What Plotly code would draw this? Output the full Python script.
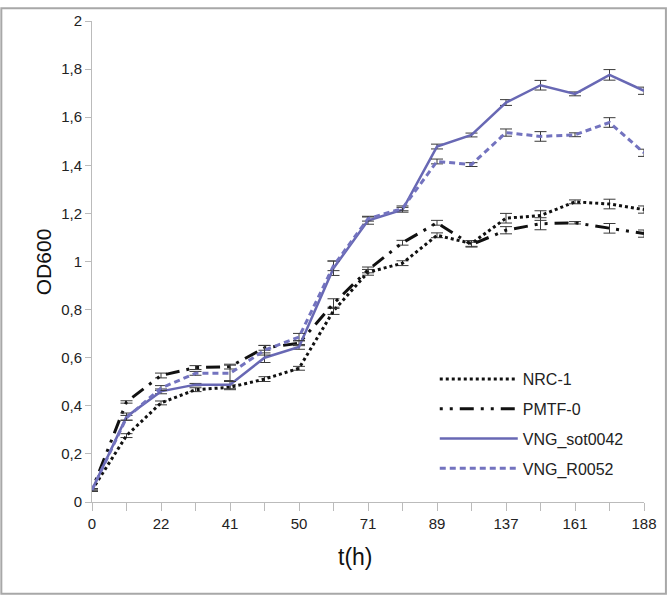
import plotly.graph_objects as go

# ---- data ----
time_labels = ["0", "", "22", "", "41", "", "50", "", "71", "", "89", "", "137", "", "161", "", "188"]

nrc1 = [0.05, 0.276, 0.412, 0.467, 0.477, 0.511, 0.556, 0.795, 0.955, 0.993, 1.109, 1.075, 1.18, 1.191, 1.248, 1.239, 1.216]
nrc1_err = [0.005, 0.008, 0.008, 0.008, 0.01, 0.01, 0.008, 0.015, 0.012, 0.01, 0.01, 0.012, 0.02, 0.02, 0.008, 0.02, 0.015]

pmtf0 = [0.05, 0.416, 0.526, 0.559, 0.563, 0.641, 0.66, 0.825, 0.965, 1.078, 1.161, 1.07, 1.13, 1.157, 1.161, 1.138, 1.116]
pmtf0_err = [0.005, 0.005, 0.01, 0.008, 0.01, 0.01, 0.01, 0.02, 0.012, 0.01, 0.01, 0.01, 0.015, 0.025, 0.005, 0.02, 0.015]

sot0042 = [0.05, 0.355, 0.46, 0.488, 0.488, 0.6, 0.645, 0.972, 1.17, 1.215, 1.478, 1.526, 1.661, 1.733, 1.697, 1.776, 1.71]
sot0042_err = [0.005, 0.015, 0.01, 0.005, 0.017, 0.02, 0.01, 0.03, 0.015, 0.01, 0.01, 0.008, 0.012, 0.02, 0.008, 0.022, 0.015]

r0052 = [0.05, 0.35, 0.474, 0.535, 0.535, 0.631, 0.686, 0.982, 1.178, 1.221, 1.416, 1.403, 1.536, 1.52, 1.527, 1.578, 1.452]
r0052_err = [0.005, 0.01, 0.01, 0.008, 0.034, 0.02, 0.015, 0.02, 0.01, 0.01, 0.01, 0.008, 0.015, 0.02, 0.008, 0.02, 0.015]

y_ticks = [0, 0.2, 0.4, 0.6, 0.8, 1, 1.2, 1.4, 1.6, 1.8, 2]
y_tick_text = ["0", "0,2", "0,4", "0,6", "0,8", "1", "1,2", "1,4", "1,6", "1,8", "2"]

x = list(range(len(time_labels)))

W, H = 669, 596
ML, MR, MT, MB = 92, 23, 14, 94
PW, PH = W - ML - MR, H - MT - MB

err_style = dict(type="data", color="#3a3a3a", thickness=1, width=6)

fig = go.Figure()
series = [
    ("NRC-1", nrc1, nrc1_err, dict(color="#111111", width=3, dash="dot")),
    ("PMTF-0", pmtf0, pmtf0_err, dict(color="#111111", width=3, dash="3px,7px,3px,7px,14px,7px")),
    ("VNG_sot0042", sot0042, sot0042_err, dict(color="#6868B4", width=2.5, dash="solid")),
    ("VNG_R0052", r0052, r0052_err, dict(color="#7373BF", width=3, dash="6px,4px")),
]
for name, vals, errs, line in series:
    fig.add_trace(go.Scatter(
        x=x, y=vals, name=name, mode="lines", line=line, legendgroup=name,
        error_y=dict(array=errs, **err_style),
    ))

axis_font = dict(family="Liberation Sans, Arial, sans-serif", size=15, color="#222222")

fig.update_xaxes(
    range=[0, len(time_labels) - 1], tickvals=x, ticktext=time_labels,
    showline=True, linecolor="#BBBBBB", linewidth=1,
    ticks="outside", ticklen=8, tickcolor="#BBBBBB", tickwidth=1,
    showgrid=False, zeroline=False, tickfont=axis_font,
)
fig.update_yaxes(
    range=[0, 2], tickvals=y_ticks, ticktext=y_tick_text,
    showline=True, linecolor="#BBBBBB", linewidth=1,
    ticks="outside", ticklen=6, tickcolor="#BBBBBB", tickwidth=1,
    showgrid=False, zeroline=False, tickfont=axis_font,
)

fig.update_layout(
    width=W, height=H,
    margin=dict(l=ML, r=MR, t=MT, b=MB),
    paper_bgcolor="white", plot_bgcolor="white",
    font=dict(family="Liberation Sans, Arial, sans-serif", color="#222222"),
    showlegend=True,
    legend=dict(
        x=(436 - ML) / PW, y=(H - MB - 360) / PH, xanchor="left", yanchor="top",
        bgcolor="rgba(0,0,0,0)", font=dict(size=16, color="#222222"),
        tracegroupgap=6, itemwidth=78,
    ),
    annotations=[
        dict(text="OD600", textangle=-90, x=(30 - ML) / PW, y=(H - MB - 258) / PH,
             xref="paper", yref="paper", showarrow=False,
             font=dict(size=21, color="#111111")),
        dict(text="t(h)", x=(356 - ML) / PW, y=(H - MB - 573) / PH,
             xref="paper", yref="paper", showarrow=False,
             font=dict(size=23, color="#111111")),
    ],
    shapes=[
        dict(type="rect", xref="paper", yref="paper",
             x0=(1 - ML) / PW, x1=(W - 1 - ML) / PW,
             y0=(H - MB - (H - 1)) / PH, y1=(H - MB - 1) / PH,
             line=dict(color="#A8A8A8", width=2), layer="below"),
    ],
)

fig.write_html(
    "out.html",
    config={"displayModeBar": False},
    post_script="document.body.style.margin='0';document.body.style.overflow='hidden';",
)
